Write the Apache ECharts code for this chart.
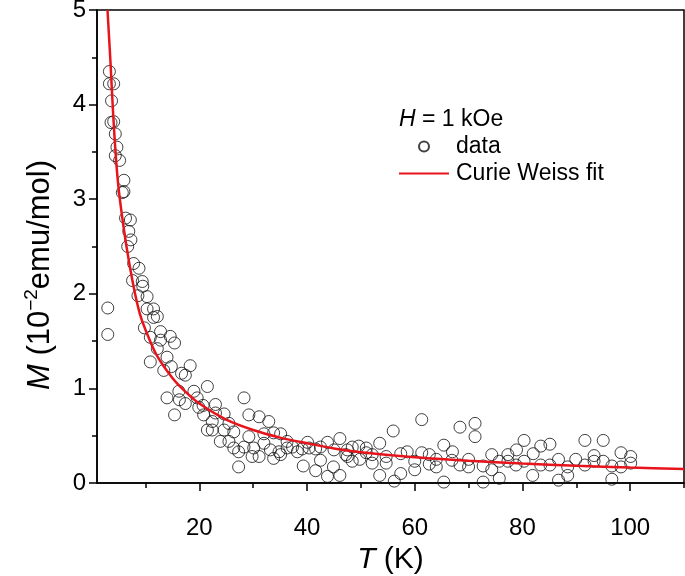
<!DOCTYPE html>
<html>
<head>
<meta charset="utf-8">
<script src="https://cdn.jsdelivr.net/npm/echarts@6/dist/echarts.min.js"></script>
<style>
html,body{margin:0;padding:0;background:#fff;}
#chart{width:685px;height:576px;}
</style>
</head>
<body>
<div id="chart"></div>
<script>
// Measured data: [T (K), M (10^-2 emu/mol)]
var measured = [
[3.3,4.35],[3.3,4.22],[4.1,4.22],[3.7,4.04],[3.6,3.81],[4.1,3.82],[4.4,3.69],[4.7,3.55],[4.4,3.46],[5.2,3.41],
[6.0,3.20],[5.7,3.07],[6.0,3.08],[6.3,2.80],[7.2,2.78],[6.9,2.66],[7.3,2.57],[6.7,2.50],
[7.8,2.32],[8.8,2.27],[7.6,2.14],[9.4,2.13],[9.5,2.08],[8.6,1.98],[10.3,1.97],[10.3,1.84],[11.5,1.84],[11.5,1.75],
[12.2,1.76],[3.0,1.85],[3.0,1.57],[9.8,1.64],[12.8,1.60],[10.9,1.54],[12.8,1.51],[14.6,1.55],[15.4,1.48],[12.2,1.42],
[14.0,1.33],[10.9,1.28],[14.8,1.23],[13.4,1.19],[18.3,1.24],[16.7,1.16],[17.4,1.14],[21.5,1.02],[16.2,0.97],[19.0,0.97],
[14.0,0.90],[16.3,0.88],[17.4,0.84],[19.6,0.90],[20.7,0.82],[19.9,0.80],[23.0,0.83],[20.8,0.72],[24.6,0.73],[15.4,0.72],
[23.0,0.74],[28.3,0.90],[22.4,0.65],[25.5,0.63],[29.2,0.72],[31.1,0.70],[21.5,0.56],[22.4,0.56],[24.6,0.56],[26.4,0.54],
[32.9,0.65],[29.2,0.49],[32.0,0.52],[33.8,0.53],[35.1,0.52],[23.9,0.44],[25.5,0.44],[26.4,0.37],[27.3,0.33],[28.3,0.38],
[30.1,0.37],[32.0,0.42],[33.2,0.35],[34.8,0.33],[36.3,0.44],[36.3,0.37],[29.8,0.28],[31.1,0.28],[33.8,0.26],[35.1,0.30],
[27.3,0.17],[37.3,0.38],[38.2,0.33],[39.1,0.36],[40.1,0.43],[40.4,0.37],[41.6,0.36],[42.5,0.38],[43.8,0.43],[45.0,0.35],
[46.1,0.47],[47.2,0.30],[39.3,0.18],[41.6,0.13],[42.5,0.24],[43.8,0.07],[44.9,0.17],[46.1,0.08],[47.5,0.35],
[48.4,0.38],[49.6,0.39],[47.5,0.28],[48.4,0.23],[49.8,0.25],[51.0,0.37],[51.0,0.32],[52.1,0.30],[52.1,0.21],[53.5,0.42],
[54.7,0.28],[54.7,0.21],[53.5,0.08],[56.0,0.55],[56.2,0.02],[57.4,0.10],[57.4,0.31],[58.6,0.33],[60.0,0.23],[60.0,0.14],
[61.3,0.67],[61.3,0.32],[62.7,0.30],[62.7,0.20],[64.0,0.25],[64.0,0.17],[65.4,0.40],[67.0,0.33],[66.9,0.24],[65.4,0.01],
[68.4,0.59],[68.4,0.19],[70.0,0.25],[70.0,0.17],[71.2,0.63],[71.2,0.49],[72.7,0.18],[72.7,0.01],[74.3,0.30],[74.3,0.14],
[75.7,0.23],[75.7,0.05],[77.3,0.30],[77.3,0.23],
[78.9,0.35],[78.8,0.19],[80.3,0.45],[80.3,0.23],[82.0,0.31],[81.9,0.08],[83.4,0.39],[83.4,0.19],[85.1,0.41],[85.1,0.19],
[86.7,0.25],[86.7,0.03],[88.4,0.17],[88.4,0.08],[89.9,0.25],[91.6,0.45],[91.6,0.19],[93.3,0.29],[93.3,0.23],[95.0,0.45],
[95.0,0.23],[96.6,0.18],[96.6,0.04],[98.3,0.32],[98.3,0.17],[100.1,0.28],[100.1,0.21]
];
// Curie-Weiss fit curve points
var fitCurve = [
[2.95,5.0],[3.5,4.45],[4.0,3.9],[4.5,3.45],[5,3.12],[6,2.68],[7,2.32],[8,2.02],[9,1.78],[10,1.62],
[12,1.36],[15,1.11],[17.5,0.96],[20,0.84],[25,0.67],[30,0.56],[35,0.48],[40,0.42],[45,0.365],[50,0.325],
[60,0.272],[70,0.235],[80,0.206],[90,0.183],[100,0.163],[110,0.148]
];
var xMajorTicks = [20,40,60,80,100];
var xMinorTicks = [10,30,50,70,90,110];

var FONT = 'Liberation Sans, Arial, sans-serif';
var chart = echarts.init(document.getElementById('chart'));
chart.setOption({
  animation: false,
  backgroundColor: '#fff',
  grid: {left: 97, right: 1, top: 10, bottom: 93, outerBoundsMode: 'none', containLabel: false,
         show: true, borderColor: '#000', borderWidth: 1.5, backgroundColor: 'transparent'},
  legend: {
    orient: 'vertical', left: 398, top: 135, padding: 0, itemWidth: 50, itemHeight: 10, itemGap: 4,
    textStyle: {fontFamily: FONT, fontSize: 23, color: '#000', padding: [0,0,0,2]},
    data: [{name: 'data'}, {name: 'Curie Weiss fit', itemStyle: {opacity: 0}}]
  },
  graphic: [{
    type: 'text', left: 399, top: 108,
    style: {
      text: '{i|H} = 1 kOe', fontFamily: FONT, fontSize: 23, fill: '#000',
      rich: {i: {fontStyle: 'italic', fontFamily: FONT, fontSize: 23, fill: '#000'}}
    }
  }, {
    type: 'text', x: 40, y: 275, rotation: Math.PI / 2,
    style: {
      text: '{i|M} (10{sup|−2}emu/mol)', fontFamily: FONT, fontSize: 31, fill: '#000',
      align: 'center', verticalAlign: 'middle',
      rich: {
        i: {fontStyle: 'italic', fontFamily: FONT, fontSize: 31, lineHeight: 36, fill: '#000'},
        sup: {fontFamily: FONT, fontSize: 19, verticalAlign: 'top', lineHeight: 36, padding: [0,0,14,0], fill: '#000'}
      }
    }
  }],
  xAxis: [{
    type: 'value', min: 1, max: 110, position: 'bottom',
    axisLine: {show: true, lineStyle: {color: '#000', width: 1.5}},
    axisTick: {show: true, inside: false, length: 8, customValues: xMajorTicks, lineStyle: {color: '#000', width: 1.5}},
    axisLabel: {customValues: xMajorTicks, margin: 33, fontFamily: FONT, fontSize: 24, color: '#000'},
    splitLine: {show: false},
    name: '{i|T} (K)', nameLocation: 'middle', nameGap: 52,
    nameTextStyle: {fontFamily: FONT, fontSize: 30, color: '#000', rich: {i: {fontStyle: 'italic', fontFamily: FONT, fontSize: 30}}}
  }, {
    type: 'value', min: 1, max: 110, position: 'bottom', gridIndex: 0,
    axisLine: {show: false},
    axisTick: {show: true, inside: false, length: 5, customValues: xMinorTicks, lineStyle: {color: '#000', width: 1.5}},
    axisLabel: {show: false},
    splitLine: {show: false}
  }],
  yAxis: {
    type: 'value', min: 0, max: 5, interval: 1,
    axisLine: {show: true, lineStyle: {color: '#000', width: 1.5}},
    axisTick: {show: true, inside: false, length: 8, lineStyle: {color: '#000', width: 1.5}},
    minorTick: {show: true, splitNumber: 2, length: 5, lineStyle: {color: '#000', width: 1.5}},
    axisLabel: {margin: 11, fontFamily: FONT, fontSize: 24, color: '#000'},
    splitLine: {show: false}
  },
  series: [{
    name: 'data', type: 'scatter', data: measured, symbol: 'circle', symbolSize: 12,
    itemStyle: {color: 'rgba(255,255,255,0)', borderColor: '#111', borderWidth: 1},
    z: 2
  }, {
    name: 'Curie Weiss fit', type: 'line', data: fitCurve, smooth: 0.3, showSymbol: false, symbol: 'none',
    lineStyle: {color: '#e8141c', width: 2.5}, itemStyle: {color: '#e8141c'},
    clip: true, z: 3
  }]
});
</script>
</body>
</html>
